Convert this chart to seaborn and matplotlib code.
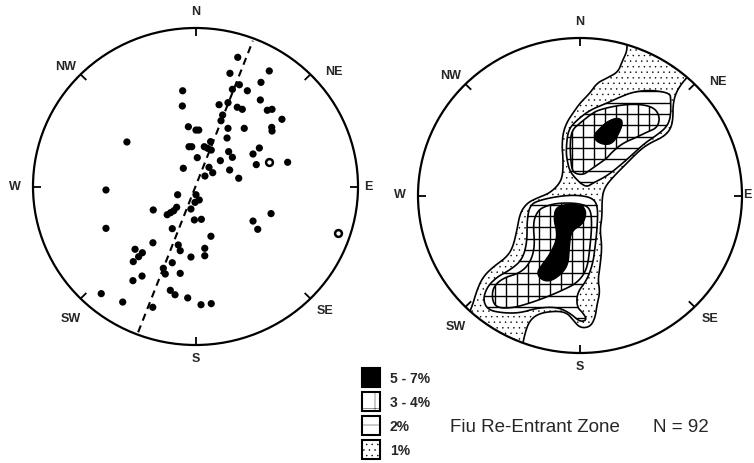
import numpy as np
import pandas as pd
import matplotlib
matplotlib.use("Agg")
import matplotlib.pyplot as plt
import seaborn as sns
from matplotlib.patches import Circle, Polygon, Rectangle

sns.set_theme(style="white")
plt.rcParams["font.family"] = ["Liberation Sans", "DejaVu Sans"]
plt.rcParams["hatch.linewidth"] = 0.3

# ---------------- data: poles (projected coords, fraction of primitive radius) ----
pole_x = [0.26, 0.212, 0.454, 0.403, 0.27, 0.319, 0.227, -0.079, -0.081, 0.145,
          0.2, 0.257, 0.288, 0.399, 0.442, 0.471, 0.532, 0.167, 0.157, -0.044,
          0.003, 0.02, 0.2, 0.3, 0.469, 0.471, -0.422, 0.093, 0.194, -0.04,
          -0.023, 0.054, 0.075, 0.097, 0.393, 0.354, 0.204, 0.227, 0.011, 0.153,
          0.454, 0.567, 0.374, -0.075, 0.083, 0.21, 0.106, 0.058, 0.266, -0.551,
          -0.11, 0.003, 0.023, -0.003, -0.116, -0.134, -0.153, -0.174, -0.26, -0.028,
          -0.007, 0.036, 0.465, 0.354, 0.383, -0.551, -0.143, 0.875, 0.095, -0.262,
          -0.372, -0.327, -0.35, -0.383, -0.106, -0.094, 0.057, 0.057, -0.028, -0.143,
          -0.198, -0.186, -0.094, -0.385, -0.329, -0.155, -0.126, -0.048, -0.58, -0.448,
          -0.263, 0.034, 0.097]
pole_y = [0.815, 0.714, 0.729, 0.657, 0.642, 0.604, 0.613, 0.604, 0.508, 0.516,
          0.529, 0.5, 0.487, 0.546, 0.481, 0.487, 0.424, 0.451, 0.415, 0.377,
          0.356, 0.356, 0.367, 0.367, 0.373, 0.35, 0.281, 0.283, 0.306, 0.251,
          0.251, 0.251, 0.241, 0.23, 0.243, 0.205, 0.22, 0.184, 0.182, 0.163,
          0.155, 0.153, 0.138, 0.115, 0.121, 0.104, 0.087, 0.066, 0.052, -0.022,
          -0.052, -0.052, -0.085, -0.1, -0.131, -0.153, -0.165, -0.178, -0.148, -0.142,
          -0.211, -0.207, -0.171, -0.218, -0.27, -0.264, -0.266, -0.295, -0.314, -0.355,
          -0.396, -0.418, -0.443, -0.474, -0.369, -0.405, -0.39, -0.437, -0.445, -0.481,
          -0.516, -0.552, -0.548, -0.594, -0.565, -0.655, -0.683, -0.703, -0.676, -0.729,
          -0.762, -0.746, -0.739]
pole_kind = ["solid"] * len(pole_x)
pole_kind[40] = "open"
pole_kind[67] = "open"

fault_trend_deg = 21

# ---------------- data: density contour outlines (right net) ----------------------
c1_x = [0.278, 0.296, 0.259, 0.235, 0.167, 0.105, 0.062, 0.0, -0.043, -0.080, -0.105,
        -0.111, -0.105, -0.105, -0.123, -0.185, -0.265, -0.327, -0.370, -0.389, -0.414,
        -0.451, -0.537, -0.599, -0.636, -0.667, -0.704, -0.772, -0.401, -0.364, -0.340,
        -0.309, -0.247, -0.142, -0.080, -0.043, 0.0, 0.062, 0.093, 0.105, 0.123, 0.111,
        0.123, 0.136, 0.123, 0.136, 0.136, 0.154, 0.204, 0.290, 0.370, 0.432, 0.512,
        0.556, 0.574, 0.574, 0.599, 0.660, 0.741, 0.432]
c1_y = [1.019, 0.930, 0.848, 0.784, 0.746, 0.714, 0.651, 0.587, 0.524, 0.467, 0.397,
        0.308, 0.244, 0.143, 0.079, 0.016, -0.016, -0.048, -0.111, -0.219, -0.327,
        -0.390, -0.454, -0.517, -0.600, -0.708, -0.790, -0.886, -1.108, -1.000, -0.873,
        -0.790, -0.746, -0.733, -0.746, -0.790, -0.841, -0.835, -0.778, -0.695, -0.613,
        -0.537, -0.454, -0.327, -0.219, -0.137, -0.010, 0.054, 0.117, 0.206, 0.289,
        0.333, 0.371, 0.416, 0.479, 0.587, 0.670, 0.752, 0.829, 1.051]

c2a_x = [0.327, 0.432, 0.556, 0.560, 0.560, 0.535, 0.475, 0.401, 0.340, 0.265, 0.167,
         0.080, 0.043, 0.0, -0.062, -0.080, -0.086, -0.074, -0.019, 0.062, 0.167, 0.247]
c2a_y = [0.657, 0.670, 0.651, 0.606, 0.498, 0.435, 0.384, 0.333, 0.276, 0.206, 0.124,
         0.079, 0.054, 0.079, 0.149, 0.225, 0.289, 0.416, 0.479, 0.543, 0.587, 0.625]
c2b_x = [-0.309, -0.247, -0.123, -0.012, 0.080, 0.111, 0.105, 0.093, 0.080, 0.043,
         -0.019, -0.019, 0.019, 0.043, 0.0, -0.062, -0.142, -0.265, -0.370, -0.475,
         -0.568, -0.599, -0.574, -0.512, -0.432, -0.358, -0.327, -0.327]
c2b_y = [-0.060, -0.029, -0.003, 0.003, -0.016, -0.073, -0.219, -0.327, -0.429, -0.537,
         -0.619, -0.708, -0.746, -0.790, -0.803, -0.746, -0.708, -0.714, -0.746, -0.746,
         -0.727, -0.663, -0.581, -0.517, -0.473, -0.410, -0.302, -0.156]

c3a_x = [0.111, 0.247, 0.370, 0.463, 0.494, 0.475, 0.414, 0.352, 0.265, 0.198, 0.167,
         0.123, 0.062, 0.019, -0.043, -0.056, -0.062, -0.049, 0.0, 0.062]
c3a_y = [0.543, 0.575, 0.581, 0.556, 0.492, 0.429, 0.403, 0.371, 0.333, 0.276, 0.238,
         0.206, 0.162, 0.130, 0.143, 0.206, 0.333, 0.416, 0.460, 0.511]
c3b_x = [-0.228, -0.142, -0.019, 0.062, 0.074, 0.062, 0.043, -0.019, -0.105, -0.204,
         -0.309, -0.414, -0.512, -0.543, -0.537, -0.475, -0.370, -0.309, -0.278, -0.290,
         -0.265]
c3b_y = [-0.073, -0.048, -0.048, -0.073, -0.175, -0.327, -0.473, -0.556, -0.600, -0.644,
         -0.683, -0.714, -0.714, -0.663, -0.581, -0.524, -0.492, -0.429, -0.327, -0.175,
         -0.105]

c5a_x = [0.117, 0.165, 0.232, 0.268, 0.240, 0.200, 0.150, 0.098, 0.085]
c5a_y = [0.420, 0.468, 0.496, 0.470, 0.392, 0.330, 0.322, 0.345, 0.384]
c5b_x = [-0.150, -0.062, 0.018, 0.040, 0.018, -0.055, -0.066, -0.072, -0.115, -0.185,
         -0.242, -0.268, -0.222, -0.180, -0.145, -0.145, -0.162]
c5b_y = [-0.072, -0.052, -0.066, -0.111, -0.182, -0.226, -0.327, -0.435, -0.500, -0.547,
         -0.534, -0.486, -0.424, -0.362, -0.283, -0.219, -0.152]

legend_labels = ["5 - 7%", "3 - 4%", "2%", "1%"]
legend_hatches = [None, "+", "-", "..."]
title_text = "Fiu Re-Entrant Zone"
n_text = "N = 92"

compass = ["N", "NE", "E", "SE", "S", "SW", "W", "NW"]
compass_pos = [(0, 1.10), (0.85, 0.72), (1.065, 0), (0.80, -0.785), (0, -1.09),
               (-0.765, -0.833), (-1.11, 0), (-0.80, 0.756)]

# ---------------- figure ----------------------------------------------------------
W, H = 754, 463
fig = plt.figure(figsize=(W / 100, H / 100), dpi=100)
fig.patch.set_facecolor("white")


def make_axes(cx, cy, ux, uy, L=1.25):
    wpx, hpx = 2 * L * ux, 2 * L * uy
    ax = fig.add_axes([(cx - wpx / 2) / W, (H - cy - hpx / 2) / H, wpx / W, hpx / H])
    ax.set_xlim(-L, L)
    ax.set_ylim(-L, L)
    ax.set_axis_off()
    ax.patch.set_alpha(0)
    return ax


def draw_net(ax, e_pos=1.065):
    ax.add_patch(Circle((0, 0), 1, fill=False, lw=1.6, ec="black", zorder=5))
    for k in range(8):
        a = np.deg2rad(45 * k)
        ax.plot([0.95 * np.sin(a), np.sin(a)], [0.95 * np.cos(a), np.cos(a)],
                color="black", lw=1.3, zorder=5, solid_capstyle="butt")
    for lab, (px, py) in zip(compass, compass_pos):
        if lab == "E":
            px = e_pos
        ax.text(px, py, lab, ha="center", va="center", fontsize=9,
                fontweight="bold", clip_on=False)


def chaikin(xs, ys, n=3):
    p = np.column_stack([xs, ys]).astype(float)
    for _ in range(n):
        q = np.roll(p, -1, axis=0)
        a = 0.75 * p + 0.25 * q
        b = 0.25 * p + 0.75 * q
        p = np.stack([a, b], axis=1).reshape(-1, 2)
    return p


# left net: poles
axL = make_axes(195.5, 186.5, 162.5, 158.5)
draw_net(axL)
df = pd.DataFrame({"x": pole_x, "y": pole_y, "kind": pole_kind})
sns.scatterplot(data=df[df.kind == "solid"], x="x", y="y", ax=axL, s=27,
                color="black", edgecolor="none", legend=False, zorder=4)
sns.scatterplot(data=df[df.kind == "open"], x="x", y="y", ax=axL, s=24,
                facecolor="white", edgecolor="black", linewidth=1.8, legend=False, zorder=4)
axL.set_xlim(-1.25, 1.25); axL.set_ylim(-1.25, 1.25)
axL.set_xlabel(""); axL.set_ylabel("")
t = np.deg2rad(fault_trend_deg)
r = np.array([-0.985, 0.985])
axL.plot(r * np.sin(t), r * np.cos(t), color="black", lw=1.5, ls=(0, (3.5, 2.5)), zorder=3)

# right net: contours
axR = make_axes(580, 195.5, 162, 157.5)
clipc = Circle((0, 0), 1, transform=axR.transData, fill=False, lw=0)
axR.add_patch(clipc)

p1 = Polygon(chaikin(c1_x, c1_y), closed=True, facecolor="white", edgecolor="black",
             hatch="...", lw=1.2, zorder=1)
axR.add_patch(p1)
p1.set_clip_path(clipc)

h_levels = 0.373 + 0.072 * np.arange(-20, 10)
v_levels = -0.051 + 0.068 * np.arange(-12, 12)
for cx, cy in [(c2a_x, c2a_y), (c2b_x, c2b_y)]:
    p2 = Polygon(chaikin(cx, cy), closed=True, facecolor="white", edgecolor="black",
                 lw=1.2, zorder=2)
    axR.add_patch(p2)
    hl = axR.hlines(h_levels, -1, 1, colors="black", lw=1.0, zorder=2.2)
    hl.set_clip_path(p2)
for cx, cy in [(c3a_x, c3a_y), (c3b_x, c3b_y)]:
    p3 = Polygon(chaikin(cx, cy), closed=True, facecolor="none", edgecolor="black",
                 lw=1.2, zorder=2.5)
    axR.add_patch(p3)
    vl = axR.vlines(v_levels, -1, 1, colors="black", lw=1.0, zorder=2.4)
    vl.set_clip_path(p3)
for cx, cy in [(c5a_x, c5a_y), (c5b_x, c5b_y)]:
    axR.add_patch(Polygon(chaikin(cx, cy), closed=True, facecolor="black",
                          edgecolor="black", lw=1.0, zorder=3))
draw_net(axR, e_pos=1.035)

# legend
sq_tops = [368, 392, 416, 440]
for top, lab, hat in zip(sq_tops, legend_labels, legend_hatches):
    fc = "black" if hat is None else "white"
    rect = Rectangle((362 / W, (H - top - 19) / H), 18 / W, 19 / H, transform=fig.transFigure,
                     facecolor=fc, edgecolor="black", lw=1.5, hatch=hat)
    fig.add_artist(rect)
    fig.text(390 / W, (H - top - 11) / H, lab, ha="left", va="center", fontsize=10,
             fontweight="bold")

fig.text(450 / W, (H - 427) / H, title_text, ha="left", va="center", fontsize=13.5)
fig.text(653 / W, (H - 427) / H, n_text, ha="left", va="center", fontsize=13.5)

fig.savefig("out.png", dpi=100, facecolor="white")
